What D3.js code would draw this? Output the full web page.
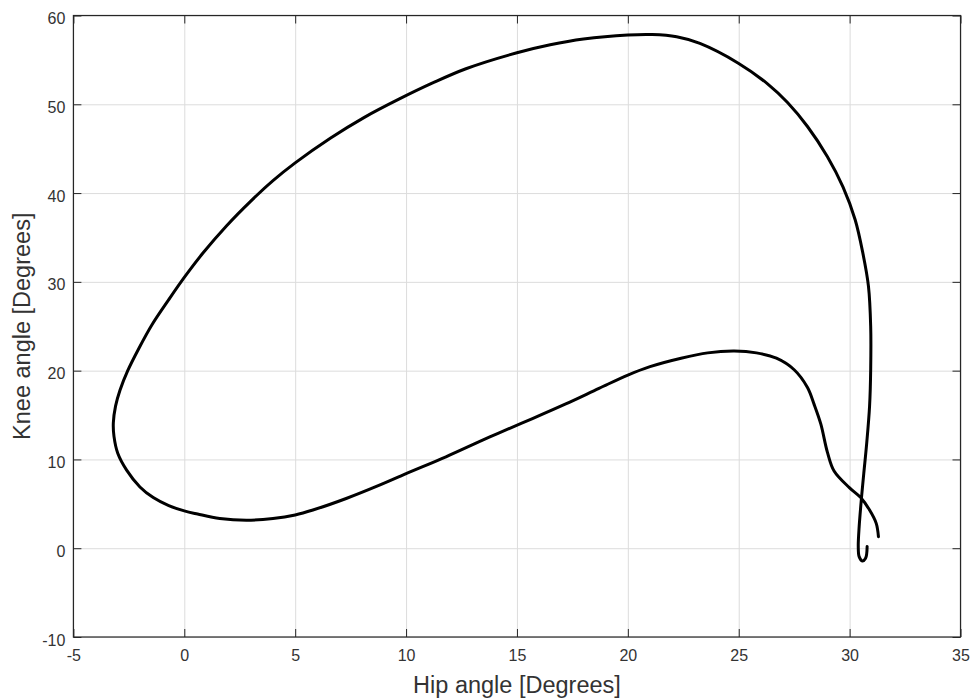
<!DOCTYPE html>
<html>
<head>
<meta charset="utf-8">
<script src="https://cdn.jsdelivr.net/npm/d3@7"></script>
<style>
  body { margin: 0; background: #fff; }
  svg text { font-family: Arial, "Liberation Sans", sans-serif; }
</style>
</head>
<body>
<svg id="chart" width="971" height="700"></svg>
<script>
// Hip-knee angle-angle diagram over one gait cycle
const hipAngle = [
  31.3, 31.2, 30.9, 30.5, 30.0, 29.3, 29.0, 28.7, 28.4, 28.1,
  27.5, 26.7, 25.8, 24.8, 23.6, 22.4, 21.0, 20.0, 18.7, 17.2,
  15.7, 14.2, 13.3, 11.8, 10.0, 8.8, 7.3, 5.8, 5.0, 4.0,
  2.8, 1.6, 0.6, 0.0, -0.7, -1.4, -2.0, -2.6, -3.0, -3.17,
  -3.2, -3.1, -2.9, -2.55, -2.05, -1.45, -0.7, 0.0, 0.86, 1.9,
  3.0, 4.0, 5.0, 6.6, 8.1, 9.7, 11.2, 12.7, 15.0, 16.5,
  18.0, 20.0, 21.1, 22.2, 23.25, 25.0, 26.3, 27.2, 28.1, 29.0,
  29.7, 30.25, 30.6, 30.85, 30.95, 30.95, 30.9, 30.77, 30.64, 30.54,
  30.43, 30.39, 30.43, 30.57, 30.72, 30.79
];
const kneeAngle = [
  1.3, 2.8, 4.3, 5.7, 6.8, 8.7, 10.8, 14.0, 16.2, 18.1,
  20.1, 21.4, 22.0, 22.2, 22.0, 21.4, 20.45, 19.5, 18.0, 16.25,
  14.6, 13.0, 12.0, 10.3, 8.4, 7.1, 5.6, 4.3, 3.75, 3.35,
  3.15, 3.35, 3.85, 4.2, 4.8, 5.7, 6.9, 8.8, 10.7, 12.6,
  14.1, 16.0, 17.8, 20.0, 22.5, 25.2, 28.0, 30.5, 33.3, 36.3,
  39.1, 41.4, 43.4, 46.2, 48.5, 50.6, 52.4, 54.0, 55.8, 56.7,
  57.35, 57.8, 57.85, 57.6, 56.85, 54.6, 52.3, 50.2, 47.5, 44.1,
  40.7, 37.0, 33.2, 29.5, 25.0, 20.1, 16.0, 11.8, 8.45, 5.8,
  2.4, 0.2, -0.95, -1.43, -1.13, 0.2
];
const xTicks = [-5, 0, 5, 10, 15, 20, 25, 30, 35];
const yTicks = [-10, 0, 10, 20, 30, 40, 50, 60];
const xLabel = "Hip angle [Degrees]";
const yLabel = "Knee angle [Degrees]";

const W = 971, H = 700;
const margin = { top: 15.5, right: 10.5, bottom: 63, left: 73.4 };
const iw = W - margin.left - margin.right;
const ih = H - margin.top - margin.bottom;

const axisColor = "#262626";
const textColor = "#333";

const svg = d3.select("#chart");
const g = svg.append("g").attr("transform", `translate(${margin.left},${margin.top})`);

const x = d3.scaleLinear().domain([-5, 35]).range([0, iw]);
const y = d3.scaleLinear().domain([-10, 60]).range([ih, 0]);

// Grid
g.append("g")
  .attr("transform", `translate(0,${ih})`)
  .call(d3.axisBottom(x).tickValues(xTicks).tickSize(-ih).tickFormat(""))
  .call(s => s.select(".domain").remove())
  .call(s => s.selectAll("line").attr("stroke", "#dcdcdc").attr("stroke-width", 1));
g.append("g")
  .call(d3.axisLeft(y).tickValues(yTicks).tickSize(-iw).tickFormat(""))
  .call(s => s.select(".domain").remove())
  .call(s => s.selectAll("line").attr("stroke", "#dcdcdc").attr("stroke-width", 1));

// Curve
const pts = hipAngle.map((h, i) => [h, kneeAngle[i]]);
const line = d3.line()
  .x(d => x(d[0]))
  .y(d => y(d[1]))
  .curve(d3.curveCatmullRom.alpha(0.5));

g.append("path")
  .datum(pts)
  .attr("d", line)
  .attr("fill", "none")
  .attr("stroke", "#000")
  .attr("stroke-width", 3)
  .attr("stroke-linejoin", "round")
  .attr("stroke-linecap", "round");

// Axes: ticks point inward on all four sides
const tick = 8;
const fmt = d => String(d);
function styleAxis(s) {
  s.select(".domain").remove();
  s.selectAll("line").attr("stroke", axisColor);
  s.selectAll("text").attr("fill", textColor).style("font-size", "16px");
}

g.append("g")
  .attr("transform", `translate(0,${ih})`)
  .call(d3.axisBottom(x).tickValues(xTicks).tickFormat(fmt).tickSizeInner(-tick).tickSizeOuter(0).tickPadding(13))
  .call(styleAxis);

g.append("g")
  .call(d3.axisTop(x).tickValues(xTicks).tickSizeInner(-tick).tickSizeOuter(0).tickFormat(""))
  .call(styleAxis);

g.append("g")
  .call(d3.axisLeft(y).tickValues(yTicks).tickFormat(fmt).tickSizeInner(-tick).tickSizeOuter(0).tickPadding(8))
  .call(styleAxis)
  .call(s => s.selectAll("text").attr("dy", "0.5em"));

g.append("g")
  .attr("transform", `translate(${iw},0)`)
  .call(d3.axisRight(y).tickValues(yTicks).tickSizeInner(-tick).tickSizeOuter(0).tickFormat(""))
  .call(styleAxis);

// Box
g.append("rect")
  .attr("width", iw)
  .attr("height", ih)
  .attr("fill", "none")
  .attr("stroke", axisColor)
  .attr("stroke-width", 1.2);

// Axis titles
svg.append("text")
  .attr("x", margin.left + iw / 2)
  .attr("y", 693)
  .attr("text-anchor", "middle")
  .attr("fill", textColor)
  .style("font-size", "23.5px")
  .text(xLabel);

svg.append("text")
  .attr("transform", `translate(30,${margin.top + ih / 2}) rotate(-90)`)
  .attr("text-anchor", "middle")
  .attr("fill", textColor)
  .style("font-size", "23.5px")
  .text(yLabel);
</script>
</body>
</html>
